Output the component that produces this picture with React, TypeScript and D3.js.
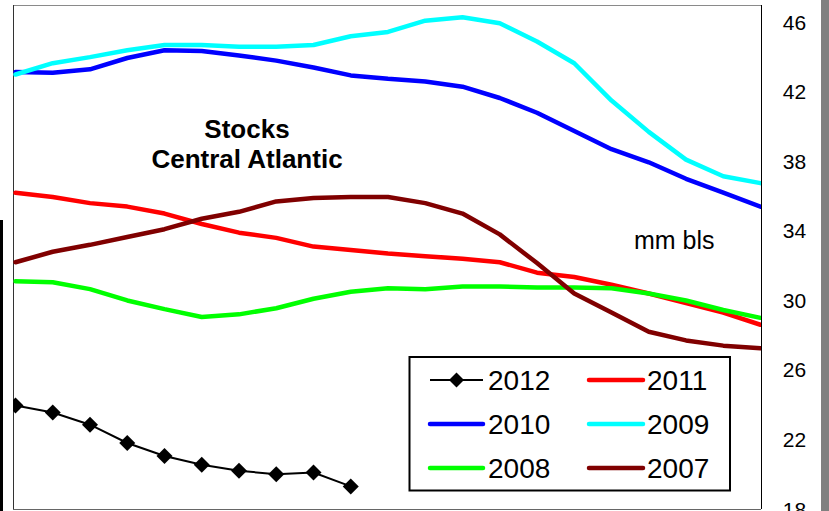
import React from "react";
import * as d3 from "d3";

const weeks = d3.range(1, 22).map((w) => `W${w}`);
const yTicks = [18, 22, 26, 30, 34, 38, 42, 46];

const s2012 = [23.95, 23.55, 22.85, 21.8, 21.05, 20.55, 20.2, 20.0, 20.1, 19.3];
const s2011 = [36.2, 35.95, 35.6, 35.4, 35.0, 34.4, 33.9, 33.6, 33.1, 32.9, 32.7, 32.55, 32.4, 32.2, 31.6, 31.35, 30.9, 30.4, 29.85, 29.3, 28.6];
const s2010 = [43.15, 43.1, 43.3, 43.95, 44.4, 44.35, 44.1, 43.8, 43.4, 42.95, 42.75, 42.6, 42.3, 41.65, 40.8, 39.75, 38.7, 37.95, 37.0, 36.2, 35.4];
const s2009 = [43.0, 43.65, 44.0, 44.4, 44.7, 44.7, 44.6, 44.6, 44.7, 45.2, 45.45, 46.1, 46.3, 45.95, 44.9, 43.65, 41.5, 39.7, 38.1, 37.15, 36.75];
const s2008 = [31.1, 31.05, 30.65, 30.0, 29.5, 29.05, 29.2, 29.55, 30.1, 30.5, 30.7, 30.65, 30.8, 30.8, 30.75, 30.75, 30.7, 30.4, 30.0, 29.45, 29.0];
const s2007 = [32.2, 32.8, 33.2, 33.65, 34.1, 34.7, 35.1, 35.7, 35.9, 35.95, 35.95, 35.6, 35.0, 33.8, 32.15, 30.4, 29.3, 28.2, 27.7, 27.4, 27.25];

const seriesNames = ["2012", "2011", "2010", "2009", "2008", "2007"];
const seriesColors = ["#000000", "#FF0000", "#0000FF", "#00FFFF", "#00FF00", "#800000"];
const seriesValues = [s2012, s2011, s2010, s2009, s2008, s2007];

const W = 829;
const H = 511;
const plot = { left: 13, right: 761, top: 5, bottom: 509 };
const FONT = "'Liberation Sans', Arial, sans-serif";

export default function App() {
  const x = d3.scaleLinear().domain([0, weeks.length - 1]).range([15.5, 760.5]);
  const y = d3.scaleLinear().domain([18, 47]).range([509, 5]);
  const line = d3
    .line<number>()
    .x((_, i) => x(i))
    .y((d) => y(d));

  const diamond = (cx: number, cy: number, r: number) =>
    `M${cx},${cy - r}L${cx + r},${cy}L${cx},${cy + r}L${cx - r},${cy}Z`;

  const legendRows = [
    [0, 1],
    [2, 3],
    [4, 5],
  ];
  const legendRowY = [380, 424, 468];
  const legendColX = [
    { x1: 430, x2: 483, tx: 488 },
    { x1: 589, x2: 643, tx: 647 },
  ];

  return (
    <svg
      width={W}
      height={H}
      style={{ position: "absolute", left: 0, top: 0, background: "#fff" }}
      fontFamily={FONT}
    >
      <defs>
        <clipPath id="plotclip">
          <rect x={plot.left} y={plot.top} width={plot.right - plot.left} height={plot.bottom - plot.top} />
        </clipPath>
      </defs>
      <rect x={0} y={0} width={W} height={H} fill="#fff" />
      {/* right gray bar */}
      <rect x={821} y={0} width={8} height={H} fill="#808080" />
      {/* left black edge */}
      <rect x={0} y={220} width={3} height={H - 220} fill="#000" />

      {/* plot border */}
      <line x1={plot.left} x2={plot.right} y1={plot.top + 0.5} y2={plot.top + 0.5} stroke="#8a8a8a" strokeWidth={1} />
      <line x1={plot.left + 0.5} x2={plot.left + 0.5} y1={plot.top} y2={plot.bottom} stroke="#333" strokeWidth={1} />
      <line x1={plot.right + 0.5} x2={plot.right + 0.5} y1={plot.top} y2={plot.bottom} stroke="#000" strokeWidth={1} />
      <line x1={plot.left} x2={plot.right} y1={plot.bottom + 0.5} y2={plot.bottom + 0.5} stroke="#666" strokeWidth={1} />

      {/* title */}
      <text x={247} y={138} textAnchor="middle" fontWeight="bold" fontSize={26}>
        Stocks
      </text>
      <text x={247} y={168} textAnchor="middle" fontWeight="bold" fontSize={26}>
        Central Atlantic
      </text>
      <text x={634} y={249} fontSize={25}>
        mm bls
      </text>

      {/* y axis labels (right) */}
      {yTicks.map((t) => (
        <text key={t} x={794.5} y={y(t)} textAnchor="middle" dominantBaseline="central" fontSize={21}>
          {t}
        </text>
      ))}

      {/* series */}
      <g clipPath="url(#plotclip)">
        {seriesValues.map((vals, si) =>
          si === 0 ? null : (
            <path
              key={seriesNames[si]}
              d={line(vals) || ""}
              fill="none"
              stroke={seriesColors[si]}
              strokeWidth={4.5}
              strokeLinejoin="round"
              strokeLinecap="round"
            />
          )
        )}
        <path d={line(s2012) || ""} fill="none" stroke="#000" strokeWidth={2} />
        {s2012.map((v, i) => (
          <path key={i} d={diamond(x(i), y(v), 8)} fill="#000" />
        ))}
      </g>

      {/* legend */}
      <rect x={409.5} y={357} width={320.5} height={133.5} fill="#fff" stroke="#000" strokeWidth={2} />
      {legendRows.map((row, ri) =>
        row.map((si, ci) => {
          const c = legendColX[ci];
          const ly = legendRowY[ri];
          return (
            <g key={si}>
              <line
                x1={c.x1}
                x2={c.x2}
                y1={ly}
                y2={ly}
                stroke={seriesColors[si]}
                strokeWidth={si === 0 ? 2 : 4.5}
                strokeLinecap={si === 0 ? "butt" : "round"}
              />
              {si === 0 && <path d={diamond((c.x1 + c.x2) / 2, ly, 7.5)} fill="#000" />}
              <text x={c.tx} y={ly} dominantBaseline="central" fontSize={28}>
                {seriesNames[si]}
              </text>
            </g>
          );
        })
      )}
    </svg>
  );
}
